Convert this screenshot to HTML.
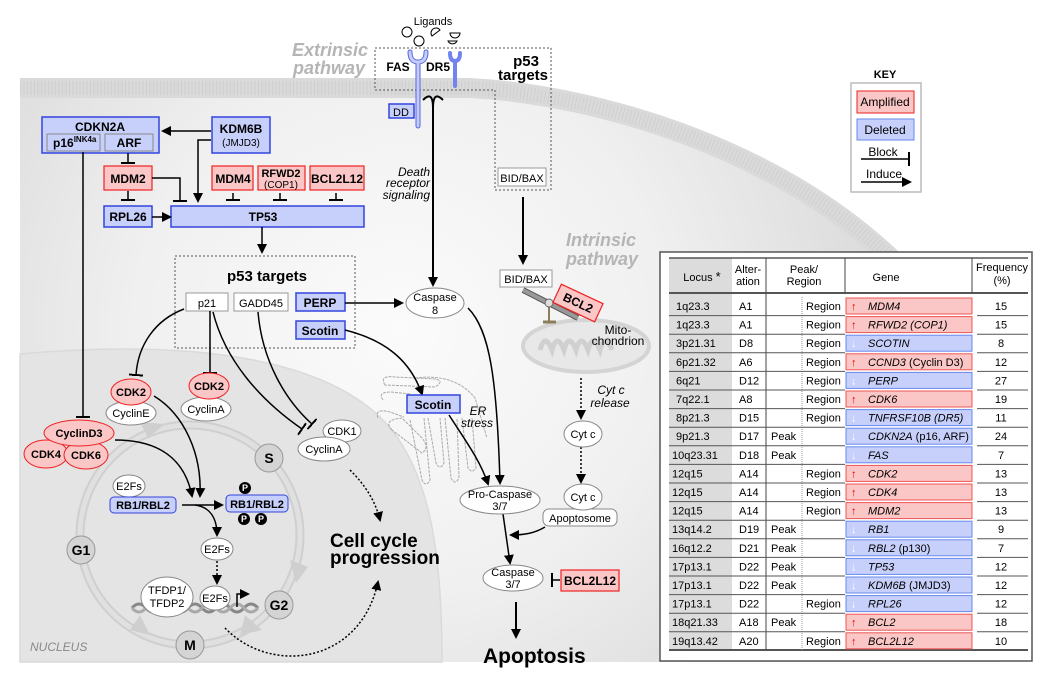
<!DOCTYPE html>
<html><head><meta charset="utf-8"><style>
html,body{margin:0;padding:0;background:#fff;}
svg{display:block;font-family:"Liberation Sans",Arial,sans-serif;}
.b{font-weight:bold}
.i{font-style:italic}
</style></head><body>
<svg width="1050" height="682" viewBox="0 0 1050 682" xmlns="http://www.w3.org/2000/svg">
<defs>
<radialGradient id="cell" cx="400" cy="330" r="480" gradientUnits="userSpaceOnUse">
<stop offset="0" stop-color="#fbfbfb"/><stop offset="0.55" stop-color="#f0f0f0"/><stop offset="1" stop-color="#dcdcdc"/>
</radialGradient>
<marker id="a" markerWidth="10" markerHeight="10" refX="8" refY="5" orient="auto" markerUnits="userSpaceOnUse"><path d="M0,0 L10,5 L0,10 z" fill="#000"/></marker>
<marker id="t" markerWidth="2" markerHeight="14" refX="1" refY="7" orient="auto" markerUnits="userSpaceOnUse"><rect x="0" y="0" width="2.5" height="14" fill="#000"/></marker>
</defs>

<!-- cell -->
<path d="M20,88 L470,88 C600,95 780,150 895,262 L1000,662 L20,662 Z" fill="url(#cell)"/>
<path d="M20,88 L470,88 C600,95 780,150 895,262" fill="none" stroke="#dadada" stroke-width="20"/>
<path d="M20,88 L470,88 C600,95 780,150 895,262" fill="none" stroke="#cfcfcf" stroke-width="14" stroke-dasharray="1 2.5"/>
<!-- nucleus -->
<path d="M20,354 C200,338 335,360 392,430 C432,482 442,560 442,662 L20,662 Z" fill="#e4e4e4" stroke="#dadada" stroke-width="1.5"/>
<text x="30" y="651" font-size="12" font-style="italic" fill="#888">NUCLEUS</text>

<!-- extrinsic -->
<text x="368" y="56" font-size="18" font-weight="bold" font-style="italic" fill="#b5b5b5" text-anchor="end">Extrinsic</text>
<text x="365" y="74" font-size="18" font-weight="bold" font-style="italic" fill="#b5b5b5" text-anchor="end">pathway</text>
<text x="433" y="25" font-size="11" text-anchor="middle">Ligands</text>
<circle cx="407" cy="32" r="5" fill="#fff" stroke="#000"/><circle cx="419" cy="41" r="5" fill="#fff" stroke="#000"/>
<path d="M432,36 a5,5 0 0 1 8,-6 z" fill="#fff" stroke="#000"/><path d="M450,33 h10 a5,5 0 0 1 -10,0 z" fill="#fff" stroke="#000"/><path d="M448,41 h9 a5,5 0 0 1 -9,0z" fill="#fff" stroke="#000"/>
<path d="M375,48 H551 V190 H495 V90 H375 Z" fill="none" stroke="#555" stroke-dasharray="2 2"/>
<text x="398" y="71" font-size="12" class="b" text-anchor="middle">FAS</text>
<text x="438" y="71" font-size="12" class="b" text-anchor="middle">DR5</text>
<path d="M410,52 q0,10 8,10 q8,0 8,-10 M418,62 V126" fill="none" stroke="#5566dd" stroke-width="5" stroke-linecap="round"/>
<path d="M410,52 q0,10 8,10 q8,0 8,-10 M418,62 V126" fill="none" stroke="#c4ccfa" stroke-width="3" stroke-linecap="round"/>
<path d="M450,53 q0,8 5,8 q5,0 5,-8 M455,61 V86" fill="none" stroke="#7083ee" stroke-width="4" stroke-linecap="round"/>
<rect x="389" y="104" width="25" height="14" fill="#c7d0fb" stroke="#3344dd" stroke-width="1.5"/>
<text x="401" y="116" font-size="11" text-anchor="middle">DD</text>
<path d="M423,100 q10,-10 10,8 q0,-18 10,-8" fill="none" stroke="#000" stroke-width="2"/>
<line x1="433" y1="106" x2="433" y2="285" stroke="#000" stroke-width="2" marker-end="url(#a)"/>
<text font-size="12" font-style="italic" text-anchor="end"><tspan x="430" y="176">Death</tspan><tspan x="430" y="187">receptor</tspan><tspan x="430" y="199">signaling</tspan></text>
<text font-size="15" class="b" text-anchor="middle"><tspan x="526" y="66">p53</tspan><tspan x="523" y="80">targets</tspan></text>
<rect x="498" y="168" width="48" height="18" fill="#fff" stroke="#999"/>
<text x="522" y="182" font-size="11" text-anchor="middle">BID/BAX</text>
<line x1="523" y1="197" x2="523" y2="263" stroke="#000" stroke-width="2" marker-end="url(#a)"/>
<rect x="500" y="270" width="52" height="17" fill="#fff" stroke="#999"/>
<text x="526" y="283" font-size="11" text-anchor="middle">BID/BAX</text>
<text font-size="18" font-weight="bold" font-style="italic" fill="#b5b5b5"><tspan x="566" y="246">Intrinsic</tspan><tspan x="566" y="265">pathway</tspan></text>

<!-- top-left regulators -->
<rect x="42" y="117" width="117" height="36" fill="#c7d0fb" stroke="#3344dd" stroke-width="1.5"/>
<text x="100" y="131" font-size="12" class="b" text-anchor="middle">CDKN2A</text>
<rect x="47" y="134" width="53" height="17" fill="#c7d0fb" stroke="#888"/>
<text x="53" y="147" font-size="12" class="b">p16<tspan font-size="8" dy="-5">INK4a</tspan></text>
<rect x="105" y="134" width="48" height="17" fill="#c7d0fb" stroke="#888"/>
<text x="129" y="147" font-size="12" class="b" text-anchor="middle">ARF</text>
<rect x="212" y="117" width="58" height="36" fill="#c7d0fb" stroke="#3344dd" stroke-width="1.5"/>
<text x="241" y="133" font-size="12" class="b" text-anchor="middle">KDM6B</text>
<text x="241" y="146" font-size="10" text-anchor="middle">(JMJD3)</text>
<line x1="211" y1="131" x2="163" y2="131" stroke="#000" stroke-width="1.5" marker-end="url(#a)"/>
<polyline points="211,140 198,140 198,201" fill="none" stroke="#000" stroke-width="1.5" marker-end="url(#a)"/>
<line x1="128" y1="153" x2="128" y2="163" stroke="#000" stroke-width="1.5" marker-end="url(#t)"/>
<g font-size="12" class="b" text-anchor="middle">
<rect x="104" y="166" width="48" height="24" fill="#fbc6c6" stroke="#e22" stroke-width="1.2"/><text x="128" y="183">MDM2</text>
<rect x="212" y="166" width="41" height="24" fill="#fbc6c6" stroke="#e22" stroke-width="1.2"/><text x="233" y="183">MDM4</text>
<rect x="258" y="166" width="47" height="24" fill="#fbc6c6" stroke="#e22" stroke-width="1.2"/><text x="281" y="177" font-size="11">RFWD2</text><text x="281" y="188" font-size="10" font-weight="normal">(COP1)</text>
<rect x="310" y="166" width="54" height="24" fill="#fbc6c6" stroke="#e22" stroke-width="1.2"/><text x="337" y="183">BCL2L12</text>
<rect x="104" y="206" width="48" height="21" fill="#c7d0fb" stroke="#3344dd" stroke-width="1.5"/><text x="128" y="221">RPL26</text>
<rect x="171" y="206" width="193" height="21" fill="#c7d0fb" stroke="#3344dd" stroke-width="1.5"/><text x="263" y="221">TP53</text>
</g>
<polyline points="152,178 180,178 180,201" fill="none" stroke="#000" stroke-width="1.5" marker-end="url(#t)"/>
<g stroke="#000" stroke-width="1.5">
<line x1="128" y1="191" x2="128" y2="200" marker-end="url(#t)"/>
<line x1="233" y1="193" x2="233" y2="200" marker-end="url(#t)"/>
<line x1="280" y1="193" x2="280" y2="200" marker-end="url(#t)"/>
<line x1="336" y1="193" x2="336" y2="200" marker-end="url(#t)"/>
<line x1="152" y1="217" x2="170" y2="217" marker-end="url(#a)"/>
<line x1="262" y1="227" x2="262" y2="252" marker-end="url(#a)"/>
</g>

<!-- p53 targets box -->
<rect x="175" y="256" width="180" height="92" fill="none" stroke="#555" stroke-dasharray="2 2"/>
<text x="267" y="281" font-size="15" class="b" text-anchor="middle">p53 targets</text>
<rect x="186" y="293" width="42" height="18" fill="#fff" stroke="#999"/><text x="207" y="307" font-size="11" text-anchor="middle">p21</text>
<rect x="234" y="293" width="54" height="18" fill="#fff" stroke="#999"/><text x="261" y="307" font-size="11" text-anchor="middle">GADD45</text>
<rect x="296" y="293" width="49" height="18" fill="#c7d0fb" stroke="#3344dd" stroke-width="1.5"/><text x="320" y="307" font-size="12" class="b" text-anchor="middle">PERP</text>
<rect x="296" y="321" width="49" height="18" fill="#c7d0fb" stroke="#3344dd" stroke-width="1.5"/><text x="320" y="335" font-size="12" class="b" text-anchor="middle">Scotin</text>
<line x1="345" y1="303" x2="402" y2="303" stroke="#000" stroke-width="1.5" marker-end="url(#a)"/>
<ellipse cx="435" cy="303" rx="29" ry="15" fill="#fff" stroke="#888"/>
<text x="435" y="301" font-size="11" text-anchor="middle">Caspase</text><text x="435" y="314" font-size="11" text-anchor="middle">8</text>

<!-- block lines to cell cycle -->
<g fill="none" stroke="#000" stroke-width="1.5">
<line x1="83" y1="152" x2="83" y2="417" marker-end="url(#t)"/>
<path d="M184,309 C155,320 138,345 136,375" marker-end="url(#t)"/>
<line x1="210" y1="311" x2="210" y2="373" marker-end="url(#t)"/>
<path d="M213,312 C225,360 260,400 302,429" marker-end="url(#t)"/>
<path d="M258,312 C262,360 285,400 312,424" marker-end="url(#t)"/>
</g>

<!-- cell cycle ring -->
<circle cx="190" cy="535" r="110" fill="none" stroke="#cfcfcf" stroke-width="9"/>
<circle cx="190" cy="535" r="110" fill="none" stroke="#e0e0e0" stroke-width="5"/>
<g fill="#cfcfcf">
<polygon points="140,422 165,424 148,438"/>
<polygon points="290,560 308,567 296,583"/>
<polygon points="245,615 240,635 262,630"/>
<polygon points="130,630 140,615 150,635"/>
</g>
<g font-size="14" class="b" text-anchor="middle">
<circle cx="269" cy="458" r="14" fill="#d4d4d4" stroke="#999"/><text x="269" y="463">S</text>
<circle cx="81" cy="550" r="14" fill="#d4d4d4" stroke="#999"/><text x="81" y="555">G1</text>
<circle cx="279" cy="605" r="14" fill="#d4d4d4" stroke="#999"/><text x="279" y="610">G2</text>
<circle cx="190" cy="645" r="14" fill="#d4d4d4" stroke="#999"/><text x="190" y="650">M</text>
</g>

<!-- cyclin complexes -->
<g font-size="11" text-anchor="middle">
<ellipse cx="46" cy="454" rx="22" ry="14" fill="#fbc6c6" stroke="#e22"/><text x="46" y="458" class="b">CDK4</text>
<ellipse cx="86" cy="455" rx="22" ry="14" fill="#fbc6c6" stroke="#e22"/><text x="86" y="459" class="b">CDK6</text>
<ellipse cx="79" cy="433" rx="35" ry="13" fill="#fbc6c6" stroke="#e22"/><text x="79" y="437" class="b">CyclinD3</text>
<ellipse cx="131" cy="413" rx="25" ry="12" fill="#fff" stroke="#888"/><text x="131" y="417">CyclinE</text>
<ellipse cx="131" cy="392" rx="20" ry="13" fill="#fbc6c6" stroke="#e22"/><text x="131" y="396" class="b">CDK2</text>
<ellipse cx="206" cy="409" rx="25" ry="12" fill="#fff" stroke="#888"/><text x="206" y="413">CyclinA</text>
<ellipse cx="209" cy="386" rx="20" ry="13" fill="#fbc6c6" stroke="#e22"/><text x="209" y="390" class="b">CDK2</text>
<ellipse cx="342" cy="431" rx="19" ry="11" fill="#fff" stroke="#888"/><text x="342" y="435">CDK1</text>
<ellipse cx="324" cy="449" rx="26" ry="12" fill="#fff" stroke="#888"/><text x="324" y="453">CyclinA</text>
<ellipse cx="129" cy="486" rx="16" ry="11" fill="#fff" stroke="#888"/><text x="129" y="490">E2Fs</text>
<rect x="110" y="497" width="66" height="16" rx="4" fill="#c7d0fb" stroke="#3344dd"/><text x="143" y="509" class="b">RB1/RBL2</text>
<rect x="226" y="495" width="62" height="17" rx="4" fill="#c7d0fb" stroke="#3344dd"/><text x="257" y="508" class="b">RB1/RBL2</text>
<ellipse cx="217" cy="549" rx="16" ry="11" fill="#fff" stroke="#888"/><text x="217" y="553">E2Fs</text>
</g>
<g fill="#000"><circle cx="245" cy="488" r="6"/><circle cx="244" cy="519" r="6"/><circle cx="261" cy="519" r="6"/></g>
<g fill="#fff" font-size="9" class="b" text-anchor="middle"><text x="245" y="491">P</text><text x="244" y="522">P</text><text x="261" y="522">P</text></g>
<g fill="none" stroke="#000" stroke-width="1.5">
<path d="M115,440 C160,440 185,460 192,496" marker-end="url(#a)"/>
<path d="M154,396 C185,415 202,455 200,496" marker-end="url(#a)"/>
<line x1="182" y1="505" x2="222" y2="505" marker-end="url(#a)"/>
<path d="M195,505 C210,507 217,518 217,535" marker-end="url(#a)"/>
<line x1="217" y1="561" x2="217" y2="583" stroke-dasharray="2 2" marker-end="url(#a)"/>
<path d="M350,470 C365,485 375,500 380,520" stroke-dasharray="2 2" marker-end="url(#a)"/>
<path d="M225,628 C270,675 360,665 378,582" stroke-dasharray="2 2" marker-end="url(#a)"/>
</g>
<!-- DNA -->
<path d="M132,608 q7,-8 14,0 t14,0 t14,0 t14,0 t14,0 t14,0 t14,0 t14,0 t14,0" fill="none" stroke="#888" stroke-width="3"/>
<path d="M132,608 q7,8 14,0 t14,0 t14,0 t14,0 t14,0 t14,0 t14,0 t14,0 t14,0" fill="none" stroke="#aaa" stroke-width="3"/>
<ellipse cx="167" cy="597" rx="26" ry="20" fill="#fff" stroke="#888"/>
<text x="167" y="594" font-size="11" text-anchor="middle">TFDP1/</text><text x="167" y="607" font-size="11" text-anchor="middle">TFDP2</text>
<ellipse cx="215" cy="598" rx="15" ry="12" fill="#fff" stroke="#888"/><text x="215" y="602" font-size="11" text-anchor="middle">E2Fs</text>
<polyline points="237,607 237,594 248,594" fill="none" stroke="#000" stroke-width="1.5" marker-end="url(#a)"/>
<text font-size="19" class="b"><tspan x="330" y="547">Cell cycle</tspan><tspan x="330" y="564">progression</tspan></text>

<!-- ER -->
<g fill="none" stroke="#aaa" stroke-width="1" stroke-dasharray="3 1">
<path d="M385,385 q-6,-10 10,-8 l40,2 q10,2 0,8 z"/>
<path d="M383,400 q-6,-8 8,-8 l20,2"/>
<path d="M378,418 q-4,-10 12,-6 l14,5"/>
<path d="M392,430 q-10,-10 10,-12 l20,20 q8,10 0,15 z"/>
<path d="M410,420 l12,60 q4,8 8,0 l-6,-62"/>
<path d="M428,418 l8,45 q4,8 8,0 l-4,-45"/>
<path d="M445,418 l6,60 q4,8 8,0 l-2,-60"/>
<path d="M462,418 l6,50 q4,6 8,0 l-4,-50"/>
<path d="M415,378 q40,-5 60,20 l12,40"/>
</g>
<path d="M345,330 C385,340 410,360 422,394" fill="none" stroke="#000" stroke-width="1.5" marker-end="url(#a)"/>
<rect x="407" y="395" width="53" height="18" fill="#c7d0fb" stroke="#3344dd" stroke-width="1.5"/>
<text x="433" y="409" font-size="12" class="b" text-anchor="middle">Scotin</text>
<text font-size="12" font-style="italic" text-anchor="middle"><tspan x="478" y="415">ER</tspan><tspan x="477" y="427">stress</tspan></text>

<!-- apoptosis chain -->
<g fill="none" stroke="#000" stroke-width="1.5">
<path d="M468,308 C490,330 497,380 500,483" marker-end="url(#a)"/>
<path d="M449,415 C465,440 480,460 488,484" marker-end="url(#a)"/>
<line x1="503" y1="514" x2="510" y2="563" marker-end="url(#a)"/>
<path d="M545,527 C535,533 525,535 511,535" marker-end="url(#a)"/>
<line x1="516" y1="602" x2="516" y2="637" stroke-width="2" marker-end="url(#a)"/>
<line x1="560" y1="580" x2="552" y2="580" marker-end="url(#t)"/>
<line x1="582" y1="322" x2="582" y2="366" marker-end="url(#t)"/>
<line x1="581" y1="378" x2="581" y2="418" stroke-dasharray="2 2" marker-end="url(#a)"/>
<line x1="581" y1="447" x2="581" y2="482" stroke-dasharray="2 2" marker-end="url(#a)"/>
</g>
<ellipse cx="500" cy="500" rx="40" ry="14" fill="#fff" stroke="#888"/>
<text x="500" y="498" font-size="11" text-anchor="middle">Pro-Caspase</text><text x="500" y="510" font-size="11" text-anchor="middle">3/7</text>
<ellipse cx="513" cy="578" rx="30" ry="13" fill="#fff" stroke="#888"/>
<text x="513" y="576" font-size="11" text-anchor="middle">Caspase</text><text x="513" y="588" font-size="11" text-anchor="middle">3/7</text>
<rect x="561" y="570" width="58" height="21" fill="#fbc6c6" stroke="#e22" stroke-width="1.2"/>
<text x="590" y="585" font-size="12" class="b" text-anchor="middle">BCL2L12</text>
<text x="483" y="663" font-size="21" class="b">Apoptosis</text>
<rect x="543" y="509" width="74" height="17" rx="6" fill="#fff" stroke="#888"/>
<text x="580" y="522" font-size="11" text-anchor="middle">Apoptosome</text>
<ellipse cx="583" cy="497" rx="19" ry="13" fill="#fff" stroke="#888"/><text x="583" y="501" font-size="11" text-anchor="middle">Cyt c</text>
<ellipse cx="583" cy="434" rx="19" ry="13" fill="#fff" stroke="#888"/><text x="583" y="438" font-size="11" text-anchor="middle">Cyt c</text>
<text font-size="12" font-style="italic" text-anchor="middle"><tspan x="611" y="394">Cyt c</tspan><tspan x="610" y="407">release</tspan></text>

<!-- mitochondrion -->
<ellipse cx="586" cy="346" rx="63" ry="26" fill="#e8e8e8" stroke="#d4d4d4" stroke-width="4"/>
<path d="M540,350 q5,-18 12,0 q5,-18 12,0 q5,-18 12,0 q5,-18 12,0 q5,-18 12,0 q5,-18 12,0" fill="none" stroke="#d0d0d0" stroke-width="5"/>
<text font-size="12" text-anchor="middle"><tspan x="618" y="334">Mito-</tspan><tspan x="618" y="345">chondrion</tspan></text>
<line x1="549" y1="306" x2="549" y2="321" stroke="#8a7f5a" stroke-width="2"/>
<line x1="543" y1="322" x2="556" y2="322" stroke="#8a7f5a" stroke-width="3"/>
<line x1="523" y1="290" x2="578" y2="318" stroke="#555" stroke-width="6"/>
<line x1="523" y1="290" x2="578" y2="318" stroke="#999" stroke-width="4"/>
<circle cx="549" cy="303" r="4" fill="#ddd" stroke="#666"/>
<g transform="translate(578,303) rotate(25)">
<rect x="-23" y="-10" width="46" height="20" fill="#fbc6c6" stroke="#e22" stroke-width="1.2"/>
<text x="0" y="4" font-size="12" class="b" text-anchor="middle">BCL2</text>
</g>

<!-- key -->
<text x="885" y="78" font-size="11" class="b" text-anchor="middle">KEY</text>
<rect x="851" y="83" width="70" height="109" fill="#fff" stroke="#bbb" stroke-width="1.5"/>
<rect x="857" y="91" width="57" height="22" fill="#fbc6c6" stroke="#e22"/>
<text x="885" y="106" font-size="12" text-anchor="middle">Amplified</text>
<rect x="857" y="119" width="57" height="21" fill="#c7d0fb" stroke="#6688ee"/>
<text x="885" y="134" font-size="12" text-anchor="middle">Deleted</text>
<text x="883" y="156" font-size="12" text-anchor="middle">Block</text>
<line x1="861" y1="159" x2="909" y2="159" stroke="#000" stroke-width="1.5" marker-end="url(#t)"/>
<text x="884" y="178" font-size="12" text-anchor="middle">Induce</text>
<line x1="861" y1="182" x2="910" y2="182" stroke="#000" stroke-width="1.5" marker-end="url(#a)"/>

<!-- table -->
<rect x="660" y="252" width="372" height="409" fill="#fff" stroke="#555" stroke-width="1.5"/>
<rect x="669" y="258" width="63" height="391" fill="#dcdcdc"/>
<line x1="669" y1="258" x2="1028" y2="258" stroke="#555" stroke-width="1.5"/>
<line x1="669" y1="293" x2="1028" y2="293" stroke="#555" stroke-width="2"/>
<line x1="669" y1="650" x2="1028" y2="650" stroke="#555" stroke-width="2"/>
<g stroke="#444" stroke-width="1">
<line x1="766" y1="258" x2="766" y2="650"/>
<line x1="845" y1="258" x2="845" y2="293"/>
<line x1="972" y1="258" x2="972" y2="293"/>
</g>
<line x1="802" y1="297" x2="802" y2="650" stroke="#999" stroke-dasharray="1 1"/>
<g font-size="11" text-anchor="middle">
<text x="702" y="281">Locus <tspan font-size="13">*</tspan></text>
<text x="748" y="273">Alter-</text><text x="748" y="285">ation</text>
<text x="804" y="273">Peak/</text><text x="804" y="285">Region</text>
<text x="886" y="281">Gene</text>
<text x="1002" y="271">Frequency</text><text x="1002" y="284">(%)</text>
</g>
<g font-size="11">
<g transform="translate(0,297)"><rect x="846" y="1" width="126" height="16" fill="#fbc6c6" stroke="#e55"/><text x="676" y="13">1q23.3</text><text x="739" y="13">A1</text><text x="806" y="13">Region</text><text x="851" y="13" fill="#e00" class="b">↑</text><text x="868" y="13"><tspan class="i">MDM4</tspan></text><text x="1001" y="13" text-anchor="middle">15</text><line x1="669" y1="18.6" x2="845" y2="18.6" stroke="#555"/><line x1="977" y1="18.6" x2="1028" y2="18.6" stroke="#555"/></g>
<g transform="translate(0,315.6)"><rect x="846" y="1" width="126" height="16" fill="#fbc6c6" stroke="#e55"/><text x="676" y="13">1q23.3</text><text x="739" y="13">A1</text><text x="806" y="13">Region</text><text x="851" y="13" fill="#e00" class="b">↑</text><text x="868" y="13"><tspan class="i">RFWD2 (COP1)</tspan></text><text x="1001" y="13" text-anchor="middle">15</text><line x1="669" y1="18.6" x2="845" y2="18.6" stroke="#555"/><line x1="977" y1="18.6" x2="1028" y2="18.6" stroke="#555"/></g>
<g transform="translate(0,334.2)"><rect x="846" y="1" width="126" height="16" fill="#c7d0fb" stroke="#6688ee"/><text x="676" y="13">3p21.31</text><text x="739" y="13">D8</text><text x="806" y="13">Region</text><text x="851" y="13" fill="#fff" class="b">↓</text><text x="868" y="13"><tspan class="i">SCOTIN</tspan></text><text x="1001" y="13" text-anchor="middle">8</text><line x1="669" y1="18.6" x2="845" y2="18.6" stroke="#555"/><line x1="977" y1="18.6" x2="1028" y2="18.6" stroke="#555"/></g>
<g transform="translate(0,352.8)"><rect x="846" y="1" width="126" height="16" fill="#fbc6c6" stroke="#e55"/><text x="676" y="13">6p21.32</text><text x="739" y="13">A6</text><text x="806" y="13">Region</text><text x="851" y="13" fill="#e00" class="b">↑</text><text x="868" y="13"><tspan class="i">CCND3</tspan> (Cyclin D3)</text><text x="1001" y="13" text-anchor="middle">12</text><line x1="669" y1="18.6" x2="845" y2="18.6" stroke="#555"/><line x1="977" y1="18.6" x2="1028" y2="18.6" stroke="#555"/></g>
<g transform="translate(0,371.4)"><rect x="846" y="1" width="126" height="16" fill="#c7d0fb" stroke="#6688ee"/><text x="676" y="13">6q21</text><text x="739" y="13">D12</text><text x="806" y="13">Region</text><text x="851" y="13" fill="#fff" class="b">↓</text><text x="868" y="13"><tspan class="i">PERP</tspan></text><text x="1001" y="13" text-anchor="middle">27</text><line x1="669" y1="18.6" x2="845" y2="18.6" stroke="#555"/><line x1="977" y1="18.6" x2="1028" y2="18.6" stroke="#555"/></g>
<g transform="translate(0,390)"><rect x="846" y="1" width="126" height="16" fill="#fbc6c6" stroke="#e55"/><text x="676" y="13">7q22.1</text><text x="739" y="13">A8</text><text x="806" y="13">Region</text><text x="851" y="13" fill="#e00" class="b">↑</text><text x="868" y="13"><tspan class="i">CDK6</tspan></text><text x="1001" y="13" text-anchor="middle">19</text><line x1="669" y1="18.6" x2="845" y2="18.6" stroke="#555"/><line x1="977" y1="18.6" x2="1028" y2="18.6" stroke="#555"/></g>
<g transform="translate(0,408.6)"><rect x="846" y="1" width="126" height="16" fill="#c7d0fb" stroke="#6688ee"/><text x="676" y="13">8p21.3</text><text x="739" y="13">D15</text><text x="806" y="13">Region</text><text x="851" y="13" fill="#fff" class="b">↓</text><text x="868" y="13"><tspan class="i">TNFRSF10B (DR5)</tspan></text><text x="1001" y="13" text-anchor="middle">11</text><line x1="669" y1="18.6" x2="845" y2="18.6" stroke="#555"/><line x1="977" y1="18.6" x2="1028" y2="18.6" stroke="#555"/></g>
<g transform="translate(0,427.2)"><rect x="846" y="1" width="126" height="16" fill="#c7d0fb" stroke="#6688ee"/><text x="676" y="13">9p21.3</text><text x="739" y="13">D17</text><text x="771" y="13">Peak</text><text x="851" y="13" fill="#fff" class="b">↓</text><text x="868" y="13"><tspan class="i">CDKN2A</tspan> (p16, ARF)</text><text x="1001" y="13" text-anchor="middle">24</text><line x1="669" y1="18.6" x2="845" y2="18.6" stroke="#555"/><line x1="977" y1="18.6" x2="1028" y2="18.6" stroke="#555"/></g>
<g transform="translate(0,445.8)"><rect x="846" y="1" width="126" height="16" fill="#c7d0fb" stroke="#6688ee"/><text x="672" y="13">10q23.31</text><text x="739" y="13">D18</text><text x="771" y="13">Peak</text><text x="851" y="13" fill="#fff" class="b">↓</text><text x="868" y="13"><tspan class="i">FAS</tspan></text><text x="1001" y="13" text-anchor="middle">7</text><line x1="669" y1="18.6" x2="845" y2="18.6" stroke="#555"/><line x1="977" y1="18.6" x2="1028" y2="18.6" stroke="#555"/></g>
<g transform="translate(0,464.4)"><rect x="846" y="1" width="126" height="16" fill="#fbc6c6" stroke="#e55"/><text x="672" y="13">12q15</text><text x="739" y="13">A14</text><text x="806" y="13">Region</text><text x="851" y="13" fill="#e00" class="b">↑</text><text x="868" y="13"><tspan class="i">CDK2</tspan></text><text x="1001" y="13" text-anchor="middle">13</text><line x1="669" y1="18.6" x2="845" y2="18.6" stroke="#555"/><line x1="977" y1="18.6" x2="1028" y2="18.6" stroke="#555"/></g>
<g transform="translate(0,483)"><rect x="846" y="1" width="126" height="16" fill="#fbc6c6" stroke="#e55"/><text x="672" y="13">12q15</text><text x="739" y="13">A14</text><text x="806" y="13">Region</text><text x="851" y="13" fill="#e00" class="b">↑</text><text x="868" y="13"><tspan class="i">CDK4</tspan></text><text x="1001" y="13" text-anchor="middle">13</text><line x1="669" y1="18.6" x2="845" y2="18.6" stroke="#555"/><line x1="977" y1="18.6" x2="1028" y2="18.6" stroke="#555"/></g>
<g transform="translate(0,501.6)"><rect x="846" y="1" width="126" height="16" fill="#fbc6c6" stroke="#e55"/><text x="672" y="13">12q15</text><text x="739" y="13">A14</text><text x="806" y="13">Region</text><text x="851" y="13" fill="#e00" class="b">↑</text><text x="868" y="13"><tspan class="i">MDM2</tspan></text><text x="1001" y="13" text-anchor="middle">13</text><line x1="669" y1="18.6" x2="845" y2="18.6" stroke="#555"/><line x1="977" y1="18.6" x2="1028" y2="18.6" stroke="#555"/></g>
<g transform="translate(0,520.2)"><rect x="846" y="1" width="126" height="16" fill="#c7d0fb" stroke="#6688ee"/><text x="672" y="13">13q14.2</text><text x="739" y="13">D19</text><text x="771" y="13">Peak</text><text x="851" y="13" fill="#fff" class="b">↓</text><text x="868" y="13"><tspan class="i">RB1</tspan></text><text x="1001" y="13" text-anchor="middle">9</text><line x1="669" y1="18.6" x2="845" y2="18.6" stroke="#555"/><line x1="977" y1="18.6" x2="1028" y2="18.6" stroke="#555"/></g>
<g transform="translate(0,538.8)"><rect x="846" y="1" width="126" height="16" fill="#c7d0fb" stroke="#6688ee"/><text x="672" y="13">16q12.2</text><text x="739" y="13">D21</text><text x="771" y="13">Peak</text><text x="851" y="13" fill="#fff" class="b">↓</text><text x="868" y="13"><tspan class="i">RBL2</tspan> (p130)</text><text x="1001" y="13" text-anchor="middle">7</text><line x1="669" y1="18.6" x2="845" y2="18.6" stroke="#555"/><line x1="977" y1="18.6" x2="1028" y2="18.6" stroke="#555"/></g>
<g transform="translate(0,557.4)"><rect x="846" y="1" width="126" height="16" fill="#c7d0fb" stroke="#6688ee"/><text x="672" y="13">17p13.1</text><text x="739" y="13">D22</text><text x="771" y="13">Peak</text><text x="851" y="13" fill="#fff" class="b">↓</text><text x="868" y="13"><tspan class="i">TP53</tspan></text><text x="1001" y="13" text-anchor="middle">12</text><line x1="669" y1="18.6" x2="845" y2="18.6" stroke="#555"/><line x1="977" y1="18.6" x2="1028" y2="18.6" stroke="#555"/></g>
<g transform="translate(0,576)"><rect x="846" y="1" width="126" height="16" fill="#c7d0fb" stroke="#6688ee"/><text x="672" y="13">17p13.1</text><text x="739" y="13">D22</text><text x="771" y="13">Peak</text><text x="851" y="13" fill="#fff" class="b">↓</text><text x="868" y="13"><tspan class="i">KDM6B</tspan> (JMJD3)</text><text x="1001" y="13" text-anchor="middle">12</text><line x1="669" y1="18.6" x2="845" y2="18.6" stroke="#555"/><line x1="977" y1="18.6" x2="1028" y2="18.6" stroke="#555"/></g>
<g transform="translate(0,594.6)"><rect x="846" y="1" width="126" height="16" fill="#c7d0fb" stroke="#6688ee"/><text x="672" y="13">17p13.1</text><text x="739" y="13">D22</text><text x="806" y="13">Region</text><text x="851" y="13" fill="#fff" class="b">↓</text><text x="868" y="13"><tspan class="i">RPL26</tspan></text><text x="1001" y="13" text-anchor="middle">12</text><line x1="669" y1="18.6" x2="845" y2="18.6" stroke="#555"/><line x1="977" y1="18.6" x2="1028" y2="18.6" stroke="#555"/></g>
<g transform="translate(0,613.2)"><rect x="846" y="1" width="126" height="16" fill="#fbc6c6" stroke="#e55"/><text x="672" y="13">18q21.33</text><text x="739" y="13">A18</text><text x="771" y="13">Peak</text><text x="851" y="13" fill="#e00" class="b">↑</text><text x="868" y="13"><tspan class="i">BCL2</tspan></text><text x="1001" y="13" text-anchor="middle">18</text><line x1="669" y1="18.6" x2="845" y2="18.6" stroke="#555"/><line x1="977" y1="18.6" x2="1028" y2="18.6" stroke="#555"/></g>
<g transform="translate(0,631.8)"><rect x="846" y="1" width="126" height="16" fill="#fbc6c6" stroke="#e55"/><text x="672" y="13">19q13.42</text><text x="739" y="13">A20</text><text x="806" y="13">Region</text><text x="851" y="13" fill="#e00" class="b">↑</text><text x="868" y="13"><tspan class="i">BCL2L12</tspan></text><text x="1001" y="13" text-anchor="middle">10</text></g>
</g>
</svg>
</body></html>
